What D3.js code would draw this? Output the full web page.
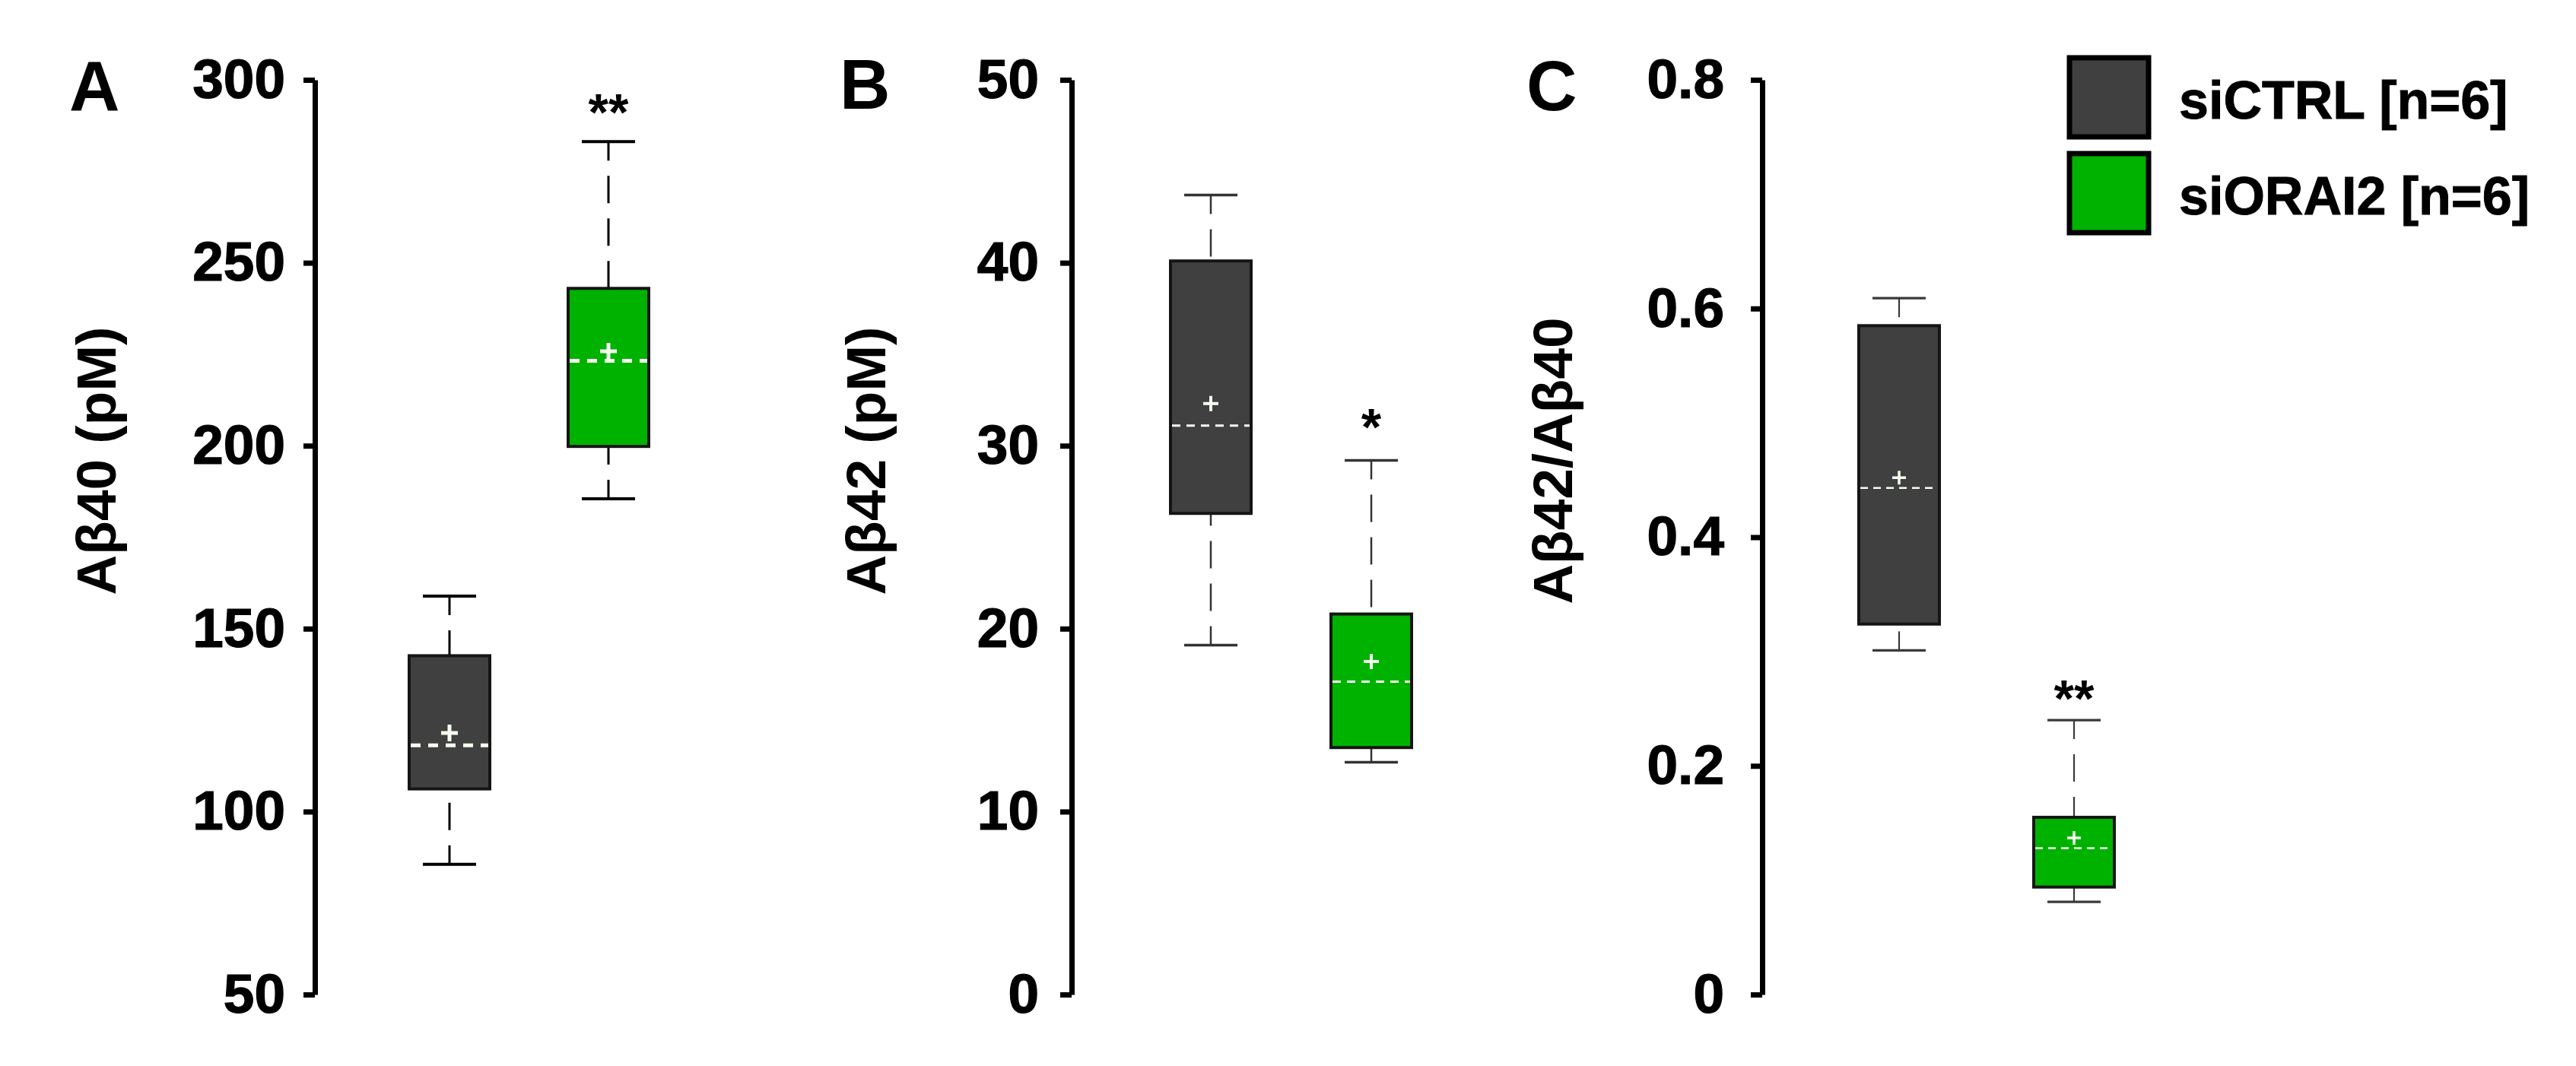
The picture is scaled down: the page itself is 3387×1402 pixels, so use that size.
<!DOCTYPE html>
<html>
<head>
<meta charset="utf-8">
<script src="https://cdn.jsdelivr.net/npm/d3@7"></script>
<style>
  body { margin: 0; background: #fff; }
  text { font-family: "Liberation Sans", Arial, sans-serif; font-weight: bold; fill: #000; }
</style>
</head>
<body>
<div id="chart"></div>
<script>
var svgWidth = 3387;
var svgHeight = 1402;

// groups and legend
var groups = ["siCTRL [n=6]", "siORAI2 [n=6]"];
var groupColors = ["#404040", "#00b200"];

// box stats in order: min, q1, median, mean, q3, max
var ab40Ctrl = [85.6, 106.2, 118.1, 121.5, 142.6, 158.9];
var ab40Orai2 = [185.5, 199.8, 223.2, 225.8, 243.0, 283.1];
var ab42Ctrl = [19.1, 26.3, 31.1, 32.3, 40.1, 43.7];
var ab42Orai2 = [12.7, 13.5, 17.1, 18.2, 20.8, 29.2];
var ratioCtrl = [0.301, 0.324, 0.443, 0.452, 0.585, 0.609];
var ratioOrai2 = [0.081, 0.094, 0.128, 0.137, 0.155, 0.240];

// tick labels
var ab40Ticks = [50, 100, 150, 200, 250, 300];
var ab42Ticks = [0, 10, 20, 30, 40, 50];
var ratioTicks = [0, 0.2, 0.4, 0.6, 0.8];

// significance marks and the value they sit at
var ab40Stars = ["", "**"];
var ab40StarAt = [null, 294];
var ab42Stars = ["", "*"];
var ab42StarAt = [null, 31.6];
var ratioStars = ["", "**"];
var ratioStarAt = [null, 0.268];

var svg = d3.select("#chart")
  .append("svg")
  .attr("width", svgWidth)
  .attr("height", svgHeight);

// layout of each panel (positions and line styles only)
var panels = [
  { letter: "A", letterX: 91, letterY: 145, title: "A\u03b240 (pM)", titleX: 152,
    axisX: 414, firstX: 591, gap: 209, pad: 24,
    ticks: ab40Ticks, stats: [ab40Ctrl, ab40Orai2], stars: ab40Stars, starAt: ab40StarAt,
    whisker: { color: "#000", w: 3 }, median: { w: 5, dash: "13,10" }, plus: { r: 11, w: 5 } },
  { letter: "B", letterX: 1104, letterY: 143, title: "A\u03b242 (pM)", titleX: 1164,
    axisX: 1409, firstX: 1592, gap: 211, pad: 28,
    ticks: ab42Ticks, stats: [ab42Ctrl, ab42Orai2], stars: ab42Stars, starAt: ab42StarAt,
    whisker: { color: "#333", w: 2.5 }, median: { w: 3, dash: "11,8" }, plus: { r: 10, w: 4 } },
  { letter: "C", letterX: 2007, letterY: 145, title: "A\u03b242/A\u03b240", titleX: 2067,
    axisX: 2317, firstX: 2497, gap: 230, pad: 35,
    ticks: ratioTicks, stats: [ratioCtrl, ratioOrai2], stars: ratioStars, starAt: ratioStarAt,
    whisker: { color: "#3a3a3a", w: 2.2 }, median: { w: 2.5, dash: "10,7" }, plus: { r: 9, w: 3.5 } }
];

var plotTop = 105;
var plotBottom = 1308;
var titleY = 606;
var boxWidth = 106;
var capWidth = 70;

panels.forEach(function(p) {
  var g = svg.append("g");

  var y = d3.scaleLinear()
    .domain([d3.min(p.ticks), d3.max(p.ticks)])
    .range([plotBottom, plotTop]);

  var x = d3.scalePoint()
    .domain(groups)
    .range([p.firstX, p.firstX + p.gap]);

  // y axis
  var axis = g.append("g")
    .attr("transform", `translate(${p.axisX}, 0)`)
    .call(d3.axisLeft(y)
      .tickValues(p.ticks)
      .tickFormat(d3.format("~g"))
      .tickSize(15)
      .tickSizeOuter(0)
      .tickPadding(p.pad));
  axis.select(".domain").attr("stroke", "#000").attr("stroke-width", 7);
  axis.selectAll(".tick line").attr("stroke", "#000").attr("stroke-width", 7);
  axis.selectAll(".tick text")
    .style("font-size", "73px")
    .attr("fill", "#000")
    .attr("stroke", "#000")
    .attr("stroke-width", 1.2);

  // panel letter
  g.append("text")
    .attr("x", p.letterX)
    .attr("y", p.letterY)
    .style("font-size", "92px")
    .text(p.letter);

  // y title
  g.append("text")
    .attr("transform", `translate(${p.titleX}, ${titleY}) rotate(-90)`)
    .attr("text-anchor", "middle")
    .style("font-size", "73px")
    .text(p.title);

  // boxes
  var box = g.selectAll(".box")
    .data(groups)
    .enter()
    .append("g")
    .attr("class", "box");

  box.each(function(name, i) {
    var s = p.stats[i];
    var cx = x(name);
    var b = d3.select(this);

    // whiskers drawn from each cap towards the box
    [[s[5], s[4]], [s[0], s[1]]].forEach(function(w) {
      b.append("line")
        .attr("x1", cx).attr("x2", cx)
        .attr("y1", y(w[0])).attr("y2", y(w[1]))
        .attr("stroke", p.whisker.color)
        .attr("stroke-width", p.whisker.w)
        .attr("stroke-dasharray", "36,20")
        .attr("stroke-dashoffset", 11);
      b.append("line")
        .attr("x1", cx - capWidth / 2).attr("x2", cx + capWidth / 2)
        .attr("y1", y(w[0])).attr("y2", y(w[0]))
        .attr("stroke", p.whisker.color)
        .attr("stroke-width", p.whisker.w + 1);
    });

    b.append("rect")
      .attr("x", cx - boxWidth / 2)
      .attr("y", y(s[4]))
      .attr("width", boxWidth)
      .attr("height", y(s[1]) - y(s[4]))
      .attr("fill", groupColors[i])
      .attr("stroke", "#151515")
      .attr("stroke-width", 4);

    // median
    b.append("line")
      .attr("x1", cx - boxWidth / 2 + 2).attr("x2", cx + boxWidth / 2 - 2)
      .attr("y1", y(s[2])).attr("y2", y(s[2]))
      .attr("stroke", "#f4fff0")
      .attr("stroke-width", p.median.w)
      .attr("stroke-dasharray", p.median.dash);

    // mean
    var my = y(s[3]);
    b.append("path")
      .attr("d", `M${cx - p.plus.r},${my}H${cx + p.plus.r}M${cx},${my - p.plus.r}V${my + p.plus.r}`)
      .attr("stroke", "#f4fff0")
      .attr("stroke-width", p.plus.w)
      .attr("fill", "none");

    // significance
    if (p.stars[i]) {
      b.append("text")
        .attr("x", cx)
        .attr("y", y(p.starAt[i]) + 37)
        .attr("text-anchor", "middle")
        .style("font-size", "68px")
        .text(p.stars[i]);
    }
  });
});

// legend
var legend = svg.append("g")
  .attr("transform", "translate(2721, 76)")
  .selectAll("g")
  .data(groups)
  .enter()
  .append("g")
  .attr("transform", (d, i) => `translate(0, ${i * 126})`);

legend.append("rect")
  .attr("width", 104)
  .attr("height", 104)
  .attr("fill", (d, i) => groupColors[i])
  .attr("stroke", "#000")
  .attr("stroke-width", 7);

legend.append("text")
  .attr("x", 144)
  .attr("y", 80)
  .style("font-size", "70px")
  .attr("stroke", "#000")
  .attr("stroke-width", 1)
  .text(d => d);
</script>
</body>
</html>
